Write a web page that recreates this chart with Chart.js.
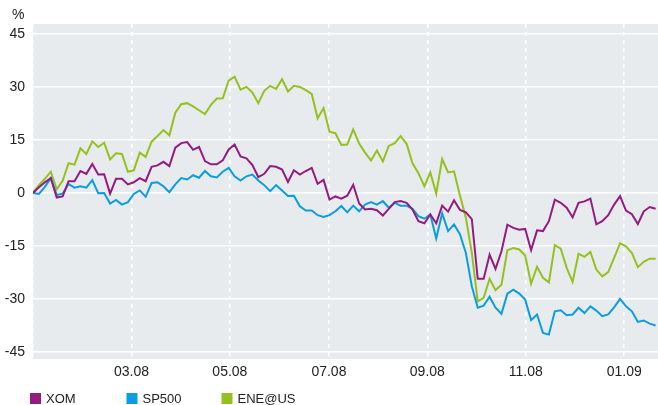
<!DOCTYPE html>
<html>
<head>
<meta charset="utf-8">
<script src="https://cdn.jsdelivr.net/npm/chart.js@4.4.0/dist/chart.umd.min.js"></script>
<style>
  html, body { margin: 0; padding: 0; background: #fff; }
</style>
</head>
<body>
<canvas id="myChart" width="658" height="405"></canvas>
<script>
// performance since start of 2008, %
var xom = [
  0, 1.6, 3, 4.2, -1.3, -1, 3.3, 3.3, 6.2, 5.4,
  8.2, 5.2, 5.3, -0.2, 4, 4, 2.4, 3, 4.2, 3.3,
  7.4, 7.8, 8.8, 7.6, 12.8, 14.1, 14.4, 12.2, 13, 9,
  8.1, 8.1, 9.2, 12.3, 13.7, 10.3, 9.8, 7.9, 4.5, 5.4,
  7.6, 7.4, 6.6, 3.1, 6.4, 5.2, 6.2, 7.1, 2.6, 3.7,
  -1.9, -1, -1.6, -0.8, 2.3, -3, -4.7, -4.5, -4.9, -6.4,
  -4.5, -2.6, -2.3, -2.8, -4.7, -8, -8.6, -6.1, -8.6, -3.6,
  -5.3, -2.1, -4.8, -5.5, -7.4, -24.3, -24.3, -17.5, -21.5, -16.5,
  -9, -9.9, -10.4, -10.2, -16.2, -10.6, -10.8, -8, -1.9, -2.8,
  -4.2, -6.9, -2.8, -2.4, -1.6, -8.9, -8, -6.3, -3.3, -0.9,
  -5, -6, -8.8, -5.2, -4, -4.5
];
var sp500 = [
  0, -0.3, 1.7, 4.2, -0.6, -0.2, 2.5, 1.5, 1.9, 1.5,
  3.6, -0.1, 0, -3, -2, -3.3, -2.6, -0.3, 0.7, -1.1,
  2.8, 3, 1.9, 0.2, 2.4, 4.2, 3.8, 5, 4.3, 6.2,
  4.7, 4.4, 6, 7.1, 4.7, 3.5, 4.7, 5.2, 3.5, 2.2,
  0.5, 2.2, 0.7, -0.9, -0.8, -3.8, -5, -5, -6.3, -6.8,
  -6.3, -5.2, -3.7, -5.5, -3.6, -5.2, -3.3, -2.6, -3.3, -2.3,
  -4.2, -2.8, -3.6, -3.6, -4.5, -6.6, -7.3, -6.1, -12.9, -5.8,
  -10.8, -8.9, -11.7, -17, -26.4, -32.5, -31.9, -29.4, -32.5, -34.2,
  -28.5, -27.4, -28.5, -30.2, -36, -34.4, -39.6, -40.1, -33.5, -33.2,
  -34.6, -34.4, -32.5, -34, -32.1, -33.3, -34.9, -34.4, -32.4, -30,
  -32.1, -33.5, -36.5, -36.1, -37, -37.5
];
var ene = [
  0, 2.2, 4, 6, 1, 3.4, 8.4, 8, 12.6, 11,
  14.6, 13, 14.2, 9.5, 11.2, 11, 6, 6.4, 11.4, 10.2,
  14.5, 16.1, 17.8, 16.3, 22.7, 25.1, 25.4, 24.5, 23.4, 22.3,
  24.9, 26.7, 26.8, 31.8, 32.9, 29.2, 30, 28.4, 25.4, 28.9,
  30.3, 29.4, 32.2, 28.7, 30.3, 30, 29.1, 28, 21.1, 24,
  17.3, 16.9, 13.6, 13.7, 18, 14, 11.4, 9.2, 12, 8.9,
  13.3, 14.1, 16.1, 13.9, 8.4, 5.6, 1.9, 5.8, -0.2, 9.6,
  5.8, 6.1, -0.7, -7, -17, -30.7, -29.7, -24.3, -27.5, -26,
  -16.2, -15.6, -16, -17.7, -25.7, -20.9, -24, -25.3, -14.8, -15.8,
  -21.2, -25.2, -17.2, -18.1, -16.7, -21.7, -23.6, -22.4, -18.4, -14.3,
  -15.1, -17, -21, -19.5, -18.6, -18.6
];
var seriesNames = ['XOM', 'SP500', 'ENE@US'];
var seriesColors = ['#951b81', '#0a9ee0', '#95c11f'];
var points = xom.map(function (v, i) { return i; });
var monthTicks = [0, 16.6, 33.2, 49.9, 66.5, 83.1, 99.7];
var monthLabels = ['', '03.08', '05.08', '07.08', '09.08', '11.08', '01.09'];
var yTicks = [-45, -30, -15, 0, 15, 30, 45];

var axisFont = { family: "'Liberation Sans', Arial, sans-serif", size: 14 };

var plotBg = {
  id: 'plotBg',
  beforeDraw: function (chart) {
    var a = chart.chartArea, ctx = chart.ctx;
    ctx.save();
    ctx.fillStyle = '#e8ebee';
    ctx.fillRect(a.left, a.top, a.right - a.left, a.bottom - a.top);
    ctx.restore();
  },
  afterDraw: function (chart) {
    var ctx = chart.ctx;
    ctx.save();
    ctx.fillStyle = '#222';
    ctx.font = "14px 'Liberation Sans', Arial, sans-serif";
    ctx.textBaseline = 'middle';
    ctx.textAlign = 'left';
    ctx.fillText('%', 12, 15);
    // legend
    var lx = [30, 126.5, 221.5];
    ctx.font = "13px 'Liberation Sans', Arial, sans-serif";
    for (var i = 0; i < seriesNames.length; i++) {
      ctx.fillStyle = seriesColors[i];
      ctx.fillRect(lx[i], 393, 11, 11);
      ctx.fillStyle = '#222';
      ctx.fillText(seriesNames[i], lx[i] + 16, 399);
    }
    ctx.restore();
  }
};

var ctx = document.getElementById('myChart').getContext('2d');
new Chart(ctx, {
  type: 'line',
  data: {
    labels: points,
    datasets: [
      { label: seriesNames[0], data: xom, borderColor: seriesColors[0] },
      { label: seriesNames[1], data: sp500, borderColor: seriesColors[1] },
      { label: seriesNames[2], data: ene, borderColor: seriesColors[2] }
    ]
  },
  options: {
    responsive: false,
    animation: false,
    layout: { padding: { top: 24, right: 0, bottom: 21, left: 0 } },
    elements: {
      point: { radius: 0 },
      line: { borderWidth: 2, tension: 0 }
    },
    plugins: {
      legend: { display: false },
      tooltip: { enabled: false }
    },
    scales: {
      x: {
        type: 'linear',
        min: 0,
        max: 105.4,
        afterBuildTicks: function (axis) {
          axis.ticks = monthTicks.map(function (v) { return { value: v }; });
        },
        afterFit: function (axis) { axis.height = 25; },
        grid: { color: '#ffffff', lineWidth: 1.5, drawTicks: false },
        border: { display: false, dash: [4, 4] },
        ticks: {
          padding: 5,
          autoSkip: false,
          maxRotation: 0,
          color: '#222',
          font: axisFont,
          callback: function (v, i) { return monthLabels[i]; }
        }
      },
      y: {
        min: -47,
        max: 47.8,
        afterBuildTicks: function (axis) {
          axis.ticks = yTicks.map(function (v) { return { value: v }; });
        },
        afterFit: function (axis) { axis.width = 33; },
        grid: { color: '#ffffff', lineWidth: 1.5, drawTicks: false },
        border: { display: false },
        ticks: { padding: 8, color: '#222', font: axisFont }
      }
    }
  },
  plugins: [plotBg]
});
</script>
</body>
</html>
